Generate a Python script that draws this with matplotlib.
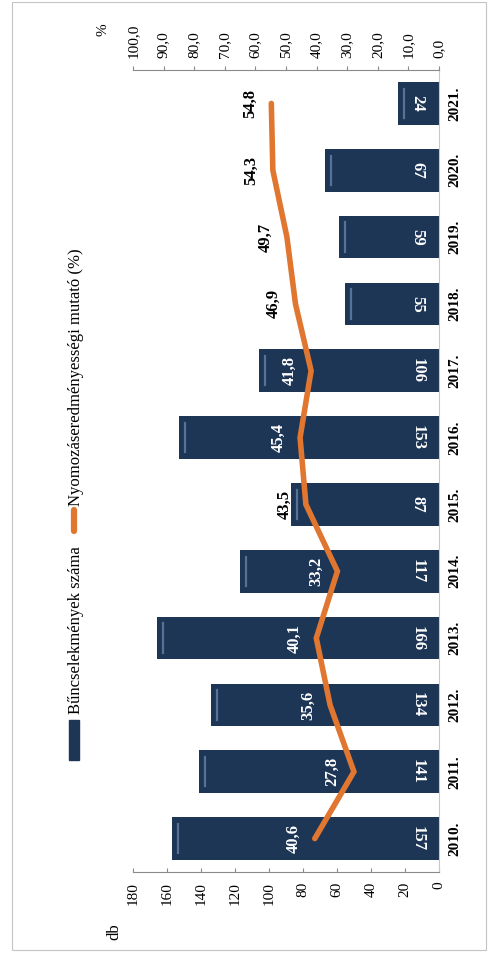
import matplotlib.pyplot as plt
from matplotlib.patches import Rectangle
from matplotlib.lines import Line2D

plt.rcParams['font.family'] = ['Liberation Serif', 'DejaVu Serif']

years = ["2010.", "2011.", "2012.", "2013.", "2014.", "2015.",
         "2016.", "2017.", "2018.", "2019.", "2020.", "2021."]
crimes = [157, 141, 134, 166, 117, 87, 153, 106, 55, 59, 67, 24]
ratio = [40.6, 27.8, 35.6, 40.1, 33.2, 43.5, 45.4, 41.8, 46.9, 49.7, 54.3, 54.8]
db_ticks = [0, 20, 40, 60, 80, 100, 120, 140, 160, 180]
pct_ticks = [0, 10, 20, 30, 40, 50, 60, 70, 80, 90, 100]

bar_color = "#1D3656"
line_color = "#E0762F"
axis_color = "#8a8a8a"

fig = plt.figure(figsize=(4.89, 9.6), dpi=100)
ax = fig.add_axes([133 / 489, 88 / 960, 306 / 489, 802 / 960])

pos = list(range(len(years)))
ax.barh(pos, crimes, height=0.64, color=bar_color, zorder=2)
# light bevel near the end of each bar
for p, v in zip(pos, crimes):
    ax.plot([v - 3.5, v - 3.5], [p - 0.22, p + 0.22], color="#6f8db3",
            lw=1.6, alpha=0.7, zorder=2.5)
ax.set_xlim(180, 0)
ax.set_ylim(-0.5, len(years) - 0.5)

# value labels at the base of each bar
for p, v in zip(pos, crimes):
    ax.text(12.5, p, str(v), rotation=-90, ha="center", va="center",
            color="white", fontsize=12, fontweight="bold", zorder=3)

ax.set_xticks(db_ticks)
ax.set_xticklabels([str(t) for t in db_ticks], rotation=90, fontsize=11)
ax.yaxis.tick_right()
ax.set_yticks(pos)
ax.set_yticklabels(years, rotation=90, va="center", fontsize=11, fontweight="bold")
ax.tick_params(axis="y", length=0, pad=7)
ax.tick_params(axis="x", length=3, color=axis_color, direction="in", pad=7)
for s in ["left", "top"]:
    ax.spines[s].set_visible(False)
ax.spines["right"].set_color("#c8c8c8")
ax.spines["bottom"].set_color(axis_color)

# percent axis
ax2 = ax.twiny()
ax2.set_xlim(100, 0)
ax2.plot(ratio, pos, color=line_color, lw=4, solid_capstyle="round",
         solid_joinstyle="miter", zorder=4)
for p, r, c in zip(pos, ratio, crimes):
    off = r + 7
    col = "white" if off * 1.8 < c else "black"
    ax2.text(off, p, f"{r:.1f}".replace(".", ","), rotation=90, ha="center",
             va="center", color=col, fontsize=12, fontweight="bold", zorder=5)
ax2.set_xticks(pct_ticks)
ax2.set_xticklabels([f"{t:.1f}".replace(".", ",") for t in pct_ticks],
                    rotation=90, fontsize=11)
ax2.tick_params(axis="x", length=3, color=axis_color, pad=6)
for s in ["left", "right", "bottom"]:
    ax2.spines[s].set_visible(False)
ax2.spines["top"].set_color(axis_color)

# axis units
fig.text(103 / 489, 1 - 30 / 960, "%", rotation=90, ha="center", va="center", fontsize=11)
fig.text(114 / 489, 1 - 932 / 960, "db", rotation=90, ha="center", va="center", fontsize=12)

# legend (rotated)
fig.add_artist(Rectangle((69 / 489, 1 - 760 / 960), 10 / 489, 40 / 960,
                         transform=fig.transFigure, color=bar_color))
fig.text(76 / 489, 1 - 714 / 960, "Bűncselekmények száma", rotation=90,
         ha="center", va="bottom", fontsize=12)
fig.add_artist(Line2D([74 / 489, 74 / 489], [1 - 531 / 960, 1 - 510 / 960],
                      transform=fig.transFigure, color=line_color, lw=4.5,
                      solid_capstyle="round"))
fig.text(76 / 489, 1 - 506 / 960, "Nyomozáseredményességi mutató (%)", rotation=90,
         ha="center", va="bottom", fontsize=12)

# outer frame
fig.add_artist(Rectangle((12 / 489, 10 / 960), 474 / 489, 948 / 960,
                         transform=fig.transFigure, fill=False,
                         edgecolor="#c4c4c4", lw=0.8))

fig.savefig("out.png", dpi=100)
